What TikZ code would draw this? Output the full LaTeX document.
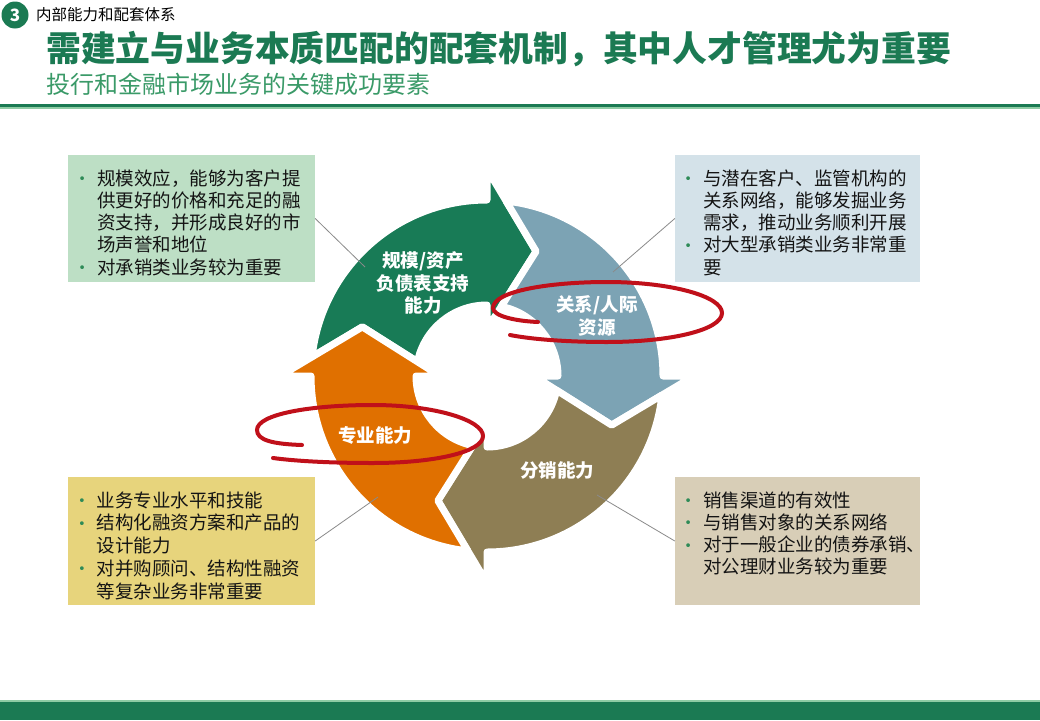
\documentclass[tikz,border=0pt]{standalone}
\usepackage{fontspec}
\setmainfont{Noto Sans CJK SC}
\newfontfamily\dejavu{DejaVu Sans}
\definecolor{dkgreen}{HTML}{1B7A53}
\definecolor{subgreen}{HTML}{3A9A68}
\definecolor{ltline}{HTML}{8FCCA5}
\definecolor{cgreen}{HTML}{187B56}
\definecolor{cblue}{HTML}{7CA3B4}
\definecolor{cbrown}{HTML}{8E7E54}
\definecolor{corange}{HTML}{E07000}
\definecolor{boxgreen}{HTML}{BDDFC5}
\definecolor{boxblue}{HTML}{D4E2E9}
\definecolor{boxyellow}{HTML}{E7D47C}
\definecolor{boxbeige}{HTML}{D8CEB7}
\definecolor{bulgreen}{HTML}{2E8B57}
\definecolor{ringred}{HTML}{C0101A}
\definecolor{txt}{HTML}{141414}
\definecolor{conn}{HTML}{8A8A8A}

\newcommand\cycarrow[2]{%
  \pgfmathsetmacro\cyBp{#1+90}%
  \pgfmathsetmacro\cyAo{\cyBp-6.23}%
  \pgfmathsetmacro\cyAi{\cyBp-11.59}%
  \pgfmathsetmacro\cyTp{\cyBp-21.5}%
  \pgfmathsetmacro\cyTc{#1-21.5}%
  \path[fill=#2, draw=white, line width=7pt, line join=round]
    (\cyAo:176) arc[start angle=\cyAo, end angle=#1, radius=176]
    -- (#1:207) -- (\cyTc:134) -- (#1:47) -- (#1:71)
    arc[start angle=#1, end angle=\cyAi, radius=71]
    -- (\cyTp:134) -- cycle;
}
\newcommand\bul{\makebox[18.8pt][l]{\raisebox{1.5pt}{\color{bulgreen}\dejavu\fontsize{13}{13}\selectfont •}}}
\newcommand\ind{\hspace*{18.8pt}}

\begin{document}
\begin{tikzpicture}[x=1pt,y=-1pt,
  infobox/.style={draw=none, minimum width=247pt, minimum height=127pt, inner sep=0pt},
  infotext/.style={anchor=base west, inner sep=0pt, text=txt},
  lbl/.style={text=white, align=center, inner sep=0pt, font=\bfseries\fontsize{18.5}{22.5}\selectfont},
  connector/.style={draw=conn, line width=0.8pt},
  ring/.style={draw=ringred, line width=4pt, line cap=round}
]
\useasboundingbox (0,0) rectangle (1040,720);
\fill[white] (0,0) rectangle (1040,720);

% header
\fill[dkgreen] (15,15) circle (13.5);
\node[text=white, font=\bfseries\fontsize{17}{17}\selectfont, inner sep=0pt] (num) at (15,15) {3};
\node[anchor=west, inner sep=0pt, text=black, font=\fontsize{15.5}{15.5}\selectfont] (hdr) at (36,15) {内部能力和配套体系};
\node[anchor=west, inner sep=0pt, text=dkgreen, font=\bfseries\fontsize{34.8}{34.8}\selectfont] (title) at (46,49) {需建立与业务本质匹配的配套机制，其中人才管理尤为重要};
\node[anchor=west, inner sep=0pt, text=subgreen, font=\fontsize{24}{24}\selectfont] (sub) at (46,84) {投行和金融市场业务的关键成功要素};
\fill[dkgreen] (0,103.5) rectangle (1040,106.8);
\fill[ltline] (0,106.8) rectangle (1040,109.3);

% bottom bar
\fill[ltline] (0,700) rectangle (1040,701.5);
\fill[dkgreen] (0,701.5) rectangle (1040,720);

% boxes
\node[infobox, fill=boxgreen] (b1) at (191.5,218.5) {};
\node[infobox, fill=boxblue, minimum width=245pt] (b2) at (797.5,218.5) {};
\node[infobox, fill=boxyellow, minimum height=128pt] (b3) at (191.5,541) {};
\node[infobox, fill=boxbeige, minimum width=245pt, minimum height=128pt] (b4) at (797.5,541) {};

\node[infotext] (t1) at (78.2,185) {\parbox[t]{240pt}{\fontsize{18.5}{22.3}\selectfont\raggedright
\bul 规模效应，能够为客户提\\
\ind 供更好的价格和充足的融\\
\ind 资支持，并形成良好的市\\
\ind 场声誉和地位\\
\bul 对承销类业务较为重要}};

\node[infotext] (t2) at (684.2,185) {\parbox[t]{240pt}{\fontsize{18.5}{22.3}\selectfont\raggedright
\bul 与潜在客户、监管机构的\\
\ind 关系网络，能够发掘业务\\
\ind 需求，推动业务顺利开展\\
\bul 对大型承销类业务非常重\\
\ind 要}};

\node[infotext] (t3) at (77.9,507) {\parbox[t]{240pt}{\fontsize{18.5}{22.8}\selectfont\raggedright
\bul 业务专业水平和技能\\
\bul 结构化融资方案和产品的\\
\ind 设计能力\\
\bul 对并购顾问、结构性融资\\
\ind 等复杂业务非常重要}};

\node[infotext] (t4) at (684.2,507) {\parbox[t]{250pt}{\fontsize{18.5}{22.3}\selectfont\raggedright
\bul 销售渠道的有效性\\
\bul 与销售对象的关系网络\\
\bul 对于一般企业的债券承销、\\
\ind 对公理财业务较为重要}};

% cycle arrows
\begin{scope}[shift={(487,376)}, x=1pt, y=1pt]
  \cycarrow{90}{cgreen}
  \cycarrow{0}{cblue}
  \cycarrow{-90}{cbrown}
  \cycarrow{180}{corange}
\end{scope}

% connectors
\coordinate (e1) at (365,267);
\coordinate (e2) at (613,272);
\coordinate (e3) at (378,497);
\coordinate (e4) at (597,495);
\draw[connector] (b1.east) -- (e1);
\draw[connector] (b2.west) -- (e2);
\draw[connector] (b3.east) -- (e3);
\draw[connector] (b4.west) -- (e4);

% labels
\node[lbl] (l1) at (423,283) {规模/资产\\负债表支持\\能力};
\node[lbl] (l2) at (597,316) {关系/人际\\资源};
\node[lbl] (l3) at (375,435) {专业能力};
\node[lbl] (l4) at (557,470) {分销能力};

% red rings
\draw[ring] (302,445) .. controls (272,444) and (257,440) .. (257,430)
  .. controls (257,414) and (311,405) .. (373,405)
  .. controls (434,405) and (483,420) .. (483,436)
  .. controls (483,452) and (434,463) .. (373,463)
  .. controls (330,463) and (295,461) .. (273,458);
\draw[ring] (538,322) .. controls (515,321) and (493,316) .. (493,308)
  .. controls (493,291) and (550,282) .. (607,282)
  .. controls (670,282) and (722,296) .. (722,313)
  .. controls (722,330) and (670,342) .. (607,342)
  .. controls (565,342) and (530,339) .. (510,335);
\end{tikzpicture}
\end{document}
